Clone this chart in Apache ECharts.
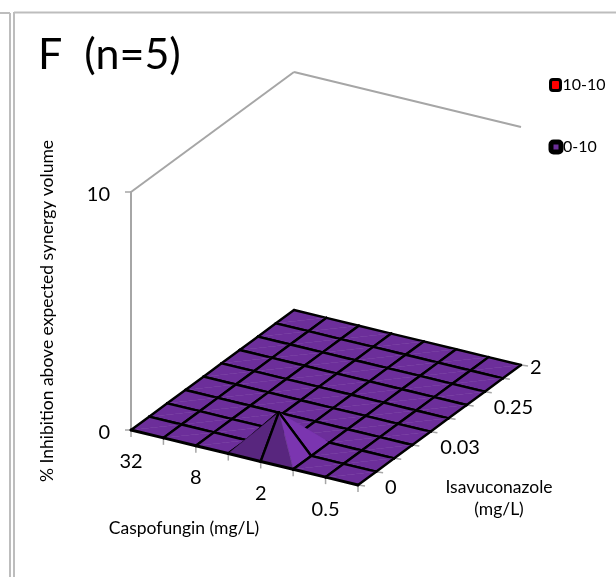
<!DOCTYPE html>
<html>
<head>
<meta charset="utf-8">
<style>
html,body{margin:0;padding:0;background:#fff}
#main{width:616px;height:577px}
</style>
<script src="https://cdn.jsdelivr.net/npm/echarts@6/dist/echarts.min.js"></script>
</head>
<body>
<div id="main"></div>
<script>
// caspofungin runs along the front edge, isavuconazole goes into the picture
var caspofungin = ['32', '16', '8', '4', '2', '1', '0.5', '0'];
var isavuconazole = ['0', '0.008', '0.016', '0.03', '0.06', '0.125', '0.25', '0.5', '1', '2'];
var shownCaspo = ['32', '8', '2', '0.5'];
var shownIsa = ['0', '0.03', '0.25', '2'];

// one row per isavuconazole step, one column per caspofungin step
var row0 = [0, 0, 0, 0, 0, 0, 0, 0];
var row1 = [0, 0, 0, 0, 1.5, 0, 0, 0];
var row2 = [0, 0, 0, 0, 0, 0, 0, 0];
var row3 = [0, 0, 0, 0, 0, 0, 0, 0];
var row4 = [0, 0, 0, 0, 0, 0, 0, 0];
var row5 = [0, 0, 0, 0, 0, 0, 0, 0];
var row6 = [0, 0, 0, 0, 0, 0, 0, 0];
var row7 = [0, 0, 0, 0, 0, 0, 0, 0];
var row8 = [0, 0, 0, 0, 0, 0, 0, 0];
var row9 = [0, 0, 0, 0, 0, 0, 0, 0];
var inhibition = [row0, row1, row2, row3, row4, row5, row6, row7, row8, row9];

var zMax = 10;
var gray = '#a6a6a6';
var frameGray = '#bdbdbd';
var purple = [108, 46, 154];
var fontName = 'Lato';

// oblique view: how far one step along each data direction moves on screen
var stepIX = 227 / 7, stepIY = 55 / 7;
var stepJX = 163 / 9, stepJY = 120 / 9;
var pxPerUnit = 23.8;

var isaLabelDx = [27, 28, 27, 9];

function project(i, j, z) {
    return [i * stepIX + j * stepJX, z - (i * stepIY - j * stepJY) / pxPerUnit];
}

// light comes from the right, front faces go darker
function shade(a, b, c) {
    var ux = b[0] - a[0], uy = b[1] - a[1], uz = (b[2] - a[2]) * 0.4;
    var vx = c[0] - a[0], vy = c[1] - a[1], vz = (c[2] - a[2]) * 0.4;
    var nx = uy * vz - uz * vy, ny = uz * vx - ux * vz, nz = ux * vy - uy * vx;
    if (nz < 0) { nx = -nx; ny = -ny; nz = -nz; }
    var len = Math.sqrt(nx * nx + ny * ny + nz * nz) || 1;
    var k = 0.7 + (0.36 * nx + 0.27 * ny + 0.3 * nz) / len;
    return 'rgb(' + purple.map(function (p) { return Math.min(255, Math.round(p * k)); }).join(',') + ')';
}

var cells = [];
for (var j = isavuconazole.length - 2; j >= 0; j--) {
    for (var i = 0; i < caspofungin.length - 1; i++) {
        cells.push([i, j]);
    }
}

function renderCell(params, api) {
    var i = api.value(0), j = api.value(1);
    function node(a, b) { return [a, b, inhibition[b][a]]; }
    function pt(n) { return api.coord(project(n[0], n[1], n[2])); }
    var fl = node(i, j), fr = node(i + 1, j), br = node(i + 1, j + 1), bl = node(i, j + 1);

    // split each cell along the diagonal through its highest corner
    var top = Math.max(fl[2], fr[2], br[2], bl[2]);
    var alongRising = fl[2] === top || br[2] === top;
    if (fr[2] === top && fl[2] !== top && br[2] !== top) alongRising = false;
    if (bl[2] === top && fl[2] !== top && br[2] !== top) alongRising = false;

    var faces;
    if (alongRising) {
        faces = [
            { tri: [fl, br, bl], edges: [[fl, bl], [bl, br]] },
            { tri: [fl, fr, br], edges: [[fl, fr], [fr, br]] }
        ];
    } else {
        faces = [
            { tri: [fr, br, bl], edges: [[fr, br], [br, bl]] },
            { tri: [fl, fr, bl], edges: [[fl, fr], [fl, bl]] }
        ];
    }

    var children = [];
    faces.forEach(function (f) {
        var color = shade(f.tri[0], f.tri[1], f.tri[2]);
        children.push({
            type: 'polygon',
            shape: { points: f.tri.map(pt) },
            style: { fill: color, stroke: color, lineWidth: 0.5 }
        });
        f.edges.forEach(function (e) {
            var p = pt(e[0]), q = pt(e[1]);
            var frontEdge = e[0][1] === 0 && e[1][1] === 0;
            children.push({
                type: 'line',
                shape: { x1: p[0], y1: p[1], x2: q[0], y2: q[1] },
                style: { stroke: '#000', lineWidth: frontEdge ? 3 : 2.4, lineCap: 'round' }
            });
        });
    });
    return { type: 'group', children: children };
}

// back wall outline, floor ticks and the tick labels of the two floor axes
function renderFrame(params, api) {
    var lastI = caspofungin.length - 1, lastJ = isavuconazole.length - 1;
    var children = [];
    function addLine(p, q, width) {
        children.push({
            type: 'line',
            shape: { x1: p[0], y1: p[1], x2: q[0], y2: q[1] },
            style: { stroke: gray, lineWidth: width }
        });
    }
    function addLabel(txt, x, y, align) {
        children.push({
            type: 'text',
            style: { text: txt, x: x, y: y, align: align, verticalAlign: 'middle', fill: '#000', fontSize: 20, fontFamily: fontName }
        });
    }
    addLine(api.coord(project(0, 0, zMax)), api.coord(project(0, lastJ, zMax)), 2);
    addLine(api.coord(project(0, lastJ, zMax)), api.coord(project(lastI, lastJ, zMax)), 2);

    caspofungin.forEach(function (name, a) {
        var p = api.coord(project(a, 0, 0));
        addLine(p, [p[0], p[1] + 7], 1.5);
        if (shownCaspo.indexOf(name) >= 0) addLabel(name, p[0], p[1] + 32, 'center');
    });
    isavuconazole.forEach(function (name, b) {
        var p = api.coord(project(lastI, b, 0));
        addLine(p, [p[0] + 7, p[1] + 1], 1.5);
        var k = shownIsa.indexOf(name);
        if (k >= 0) addLabel(name, p[0] + isaLabelDx[k], p[1] + 3, 'left');
    });
    return { type: 'group', children: children };
}

var option = {
    animation: false,
    backgroundColor: '#fff',
    textStyle: { fontFamily: fontName },
    title: {
        text: 'F  (n=5)',
        left: 33,
        top: 29,
        textStyle: { fontSize: 43, fontWeight: 'normal', color: '#000', fontFamily: fontName }
    },
    legend: [
        {
            data: ['10-10'], left: 549, top: 77, padding: 0, itemWidth: 10, itemHeight: 11, icon: 'roundRect',
            itemStyle: { color: '#ff0000', borderColor: '#000', borderWidth: 3 },
            textStyle: { fontSize: 16, color: '#000', padding: [0, 0, 0, -3] }
        },
        {
            data: ['0-10'], left: 548.5, top: 139, padding: 0, itemWidth: 10, itemHeight: 10, icon: 'roundRect',
            itemStyle: { color: '#6c2e9a', borderColor: '#000', borderWidth: 5 },
            textStyle: { fontSize: 16, color: '#000', padding: [0, 0, 0, -3] }
        }
    ],
    grid: { left: 131, top: 192, width: 420, height: 238 },
    xAxis: { type: 'value', min: 0, max: 420, show: false },
    yAxis: {
        type: 'value',
        min: 0,
        max: zMax,
        interval: zMax,
        name: '% Inhibition above expected synergy volume',
        nameLocation: 'middle',
        nameGap: 75,
        nameTextStyle: { fontSize: 17.5, color: '#000' },
        axisLine: { show: true, lineStyle: { color: gray, width: 2 } },
        axisTick: { show: true, length: 6, lineStyle: { color: gray, width: 1.5 } },
        axisLabel: { fontSize: 20, color: '#000', margin: 21, verticalAlign: 'top', padding: [-7, 0, 0, 0] },
        splitLine: { show: false }
    },
    graphic: [
        { type: 'line', silent: true, shape: { x1: 14, y1: 12.5, x2: 616, y2: 12.5 }, style: { stroke: frameGray, lineWidth: 2 } },
        { type: 'line', silent: true, shape: { x1: 14, y1: 12, x2: 14, y2: 577 }, style: { stroke: frameGray, lineWidth: 2 } },
        { type: 'line', silent: true, shape: { x1: 10, y1: 13, x2: 10, y2: 577 }, style: { stroke: frameGray, lineWidth: 2 } },
        { type: 'line', silent: true, shape: { x1: 0, y1: 13, x2: 10, y2: 13 }, style: { stroke: frameGray, lineWidth: 2 } },
        { type: 'text', silent: true, style: { text: 'Caspofungin (mg/L)', x: 184, y: 528, align: 'center', verticalAlign: 'middle', fontSize: 17.5, fontFamily: fontName, fill: '#000' } },
        { type: 'text', silent: true, style: { text: 'Isavuconazole\n(mg/L)', x: 499, y: 498, align: 'center', verticalAlign: 'middle', fontSize: 17.5, lineHeight: 22, fontFamily: fontName, fill: '#000' } }
    ],
    series: [
        { name: 'frame', type: 'custom', renderItem: renderFrame, data: [[0, 0]], silent: true, z: 1 },
        { name: '10-10', type: 'custom', renderItem: function () { return null; }, data: [], itemStyle: { color: '#ff0000' }, z: 1 },
        { name: '0-10', type: 'custom', renderItem: renderCell, data: cells, itemStyle: { color: '#6c2e9a' }, silent: true, z: 2 }
    ]
};

echarts.init(document.getElementById('main')).setOption(option);
</script>
</body>
</html>
